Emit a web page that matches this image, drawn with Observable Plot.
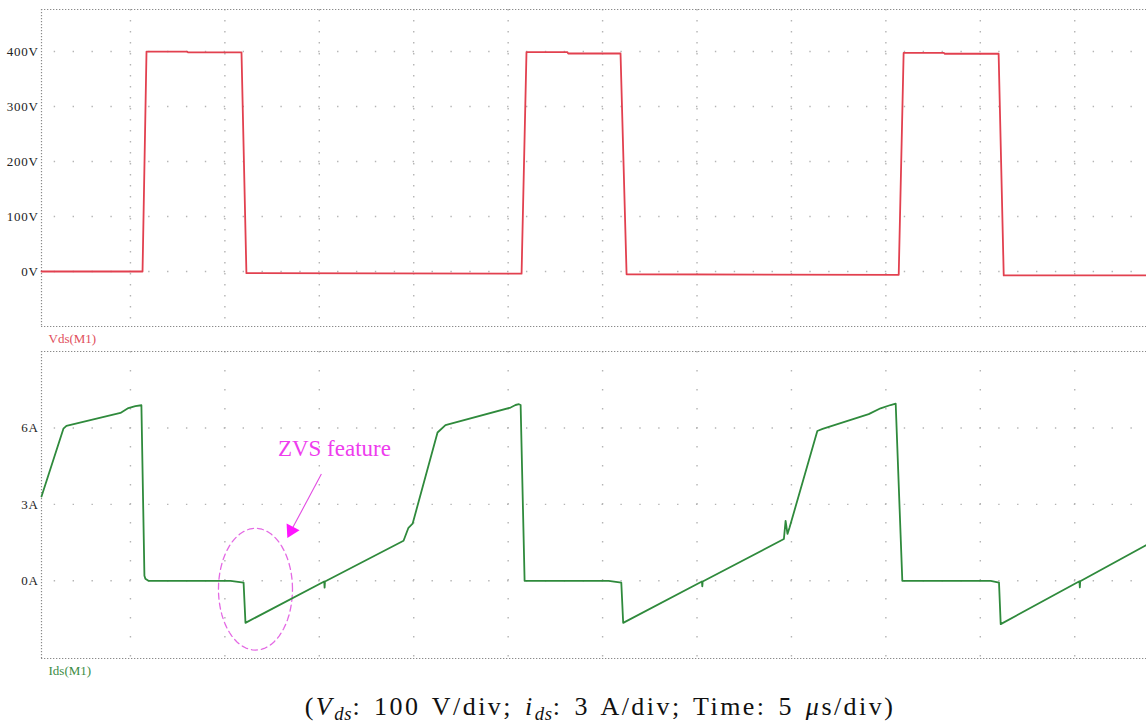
<!DOCTYPE html>
<html><head><meta charset="utf-8">
<script src="https://cdn.jsdelivr.net/npm/d3@7"></script>
<script src="https://cdn.jsdelivr.net/npm/@observablehq/plot@0.6"></script>
<style>
html,body{margin:0;padding:0;background:#fff;overflow:hidden;}
#topPanel,#botPanel{line-height:0;}
svg text{font-family:"Liberation Serif","Times New Roman",serif !important;}
g[aria-label="y-axis tick label"] text{letter-spacing:0.7px;}
#caption{font-family:"Liberation Serif","DejaVu Serif",serif;font-size:26px;letter-spacing:2.45px;word-spacing:3px;text-align:center;line-height:34px;height:34px;padding-top:10px;padding-left:54px;color:#111;white-space:nowrap;}
#caption sub{font-size:0.72em;vertical-align:-0.28em;line-height:0;letter-spacing:0.8px;}
</style></head><body>
<div id="topPanel"></div><div id="botPanel"></div>
<div id="caption">(<i>V</i><sub><i>ds</i></sub>: 100 V/div; <i>i</i><sub><i>ds</i></sub>: 3 A/div; Time: 5 <i>μ</i>s/div)</div>
<script>
// ---- data (time in µs) ----
const timeDomain = [0.29, 58.8];
const gridTimes = [5, 10, 15, 20, 25, 30, 35, 40, 45, 50, 55];
const vdsTicks = [0, 100, 200, 300, 400];
const vdsDomain = [-100, 476.5];
const idsTicks = [0, 3, 6];
const idsDomain = [-3.05, 9.0];

const vdsTime  = [0.29, 5.64, 5.85, 8.0, 8.05, 10.88, 11.14, 25.71, 25.97, 28.13, 28.18, 30.95, 31.27, 45.68, 45.94, 48.07, 48.12, 50.97, 51.24, 58.8];
const vdsValue = [0,    0,    400,  400, 398.5, 398.5, -3,   -4,    399,   399,   396.5, 396.5, -5,    -6,    397.5, 397.5, 396,   396,   -7,    -7];

const idsTime  = [0.29, 1.45, 1.61, 4.47, 4.89, 5.26, 5.58, 5.74, 5.79, 5.95, 10.30, 10.99, 11.09,
                  15.26, 15.28, 15.30, 19.46, 19.72, 19.94, 21.26, 21.68, 25.13, 25.39, 25.57, 25.66, 25.87,
                  30.32, 30.99, 31.09, 35.26, 35.28, 35.30, 39.60, 39.69, 39.79, 39.90, 41.37, 41.65, 44.09, 44.72, 45.25, 45.52, 45.87,
                  50.55, 50.99, 51.08, 55.25, 55.27, 55.29, 58.81];
const idsValue = [3.31, 5.97, 6.08, 6.59, 6.78, 6.86, 6.89, 0.2, 0.08, 0, 0, -0.07, -1.65,
                  -0.03, -0.27, -0.03, 1.57, 2.08, 2.24, 5.82, 6.11, 6.80, 6.90, 6.93, 6.90, 0,
                  0, -0.07, -1.65, -0.03, -0.22, -0.03, 1.64, 2.35, 1.84, 2.09, 5.88, 5.96, 6.54, 6.77, 6.90, 6.95, 0,
                  0, -0.07, -1.70, -0.02, -0.26, -0.02, 1.41];

// annotation (data coordinates)
const zvsLabel = "ZVS feature";
const zvsText = {t: 15.80, a: 5.17};
const zvsArrowTail = {t: 15.11, a: 4.19};
const zvsArrowHead = {t: 13.51, a: 1.97};
const zvsEllipse = {t: 11.62, a: -0.33, rt: 1.96, ra: 2.39};

const vdsData = vdsTime.map((t, i) => ({t, v: vdsValue[i]}));
const idsData = idsTime.map((t, i) => ({t, v: idsValue[i]}));
const ellipsePts = d3.range(0, 73).map(k => {
  const th = k / 72 * 2 * Math.PI;
  return {t: zvsEllipse.t + zvsEllipse.rt * Math.cos(th), v: zvsEllipse.a + zvsEllipse.ra * Math.sin(th)};
});

const W = 1146, ML = 41;
const pxPerUs = (W - ML) / (timeDomain[1] - timeDomain[0]);
const gridColor = "#b4b4b4", borderColor = "#8a8a8a";
const hDash = `1.4,${(pxPerUs - 1.4).toFixed(2)}`;
const hOffset = (pxPerUs - ((gridTimes[0] - timeDomain[0]) * pxPerUs) % pxPerUs + 0.7).toFixed(2);
const font = "'Liberation Serif', serif";

function panel({height, marginTop, marginBottom, domain, ticks, unit, data, color, label, labelColor, vDash, extra = []}) {
  return Plot.plot({
    width: W, height, marginLeft: ML, marginRight: 0, marginTop, marginBottom,
    style: {fontFamily: font, fontSize: "13px", background: "#fff", color: "#222"},
    x: {domain: timeDomain, axis: null},
    y: {domain, axis: null},
    marks: [
      Plot.ruleY(ticks, {stroke: gridColor, strokeWidth: 1.4, strokeDasharray: hDash, strokeDashoffset: hOffset}),
      Plot.ruleX(gridTimes, {stroke: gridColor, strokeWidth: 1.4, strokeDasharray: vDash}),
      Plot.ruleY([domain[0], domain[1]], {stroke: borderColor, strokeWidth: 1, strokeDasharray: "1.3,1.7"}),
      Plot.ruleX([timeDomain[0]], {stroke: borderColor, strokeWidth: 1.2, strokeDasharray: "1.3,1.7"}),
      Plot.axisY(ticks, {tickFormat: d => d + unit, tickSize: 0, tickPadding: 3, fontSize: 13, label: null, fill: "#222", fontFamily: font}),
      ...extra,
      Plot.line(data, {x: "t", y: "v", stroke: color, strokeWidth: 1.8, curve: "linear"}),
      Plot.text([label], {frameAnchor: "bottom-left", text: d => d, dx: 7, dy: 12, textAnchor: "start", lineAnchor: "middle", fill: labelColor, fontSize: 13, fontFamily: font})
    ]
  });
}

const topPlot = panel({height: 346, marginTop: 9, marginBottom: 20, domain: vdsDomain, ticks: vdsTicks, unit: "V",
  data: vdsData, color: "#e2404f", label: "Vds(M1)", labelColor: "#df4f5d", vDash: "1.4,9.6"});

const zvsColor = "#ee3cee";
const botPlot = panel({height: 334, marginTop: 5, marginBottom: 22, domain: idsDomain, ticks: idsTicks, unit: "A",
  data: idsData, color: "#2f8a3c", label: "Ids(M1)", labelColor: "#3b8c45", vDash: "1.4,17.6",
  extra: [
    Plot.line(ellipsePts, {x: "t", y: "v", stroke: "#e46ae4", strokeWidth: 1.3, strokeDasharray: "6,4"}),
    Plot.link([0], {x1: () => zvsArrowTail.t, y1: () => zvsArrowTail.a, x2: () => zvsArrowHead.t, y2: () => zvsArrowHead.a, stroke: "#e24ce2", strokeWidth: 1.1}),
    Plot.dot([0], {x: () => zvsArrowHead.t, y: () => zvsArrowHead.a, symbol: "triangle", r: 5.4, rotate: 207, fill: "#ff14ff", stroke: "none"}),
    Plot.text([zvsLabel], {x: () => zvsText.t, y: () => zvsText.a, text: d => d, fill: zvsColor, fontSize: 23, textAnchor: "middle", lineAnchor: "middle", fontFamily: font})
  ]});

document.getElementById("topPanel").appendChild(topPlot);
document.getElementById("botPanel").appendChild(botPlot);
</script>
</body></html>
